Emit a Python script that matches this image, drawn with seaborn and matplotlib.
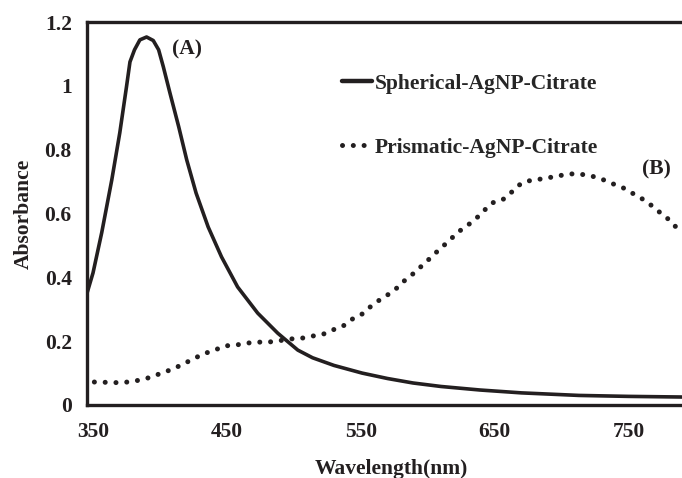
import numpy as np
import pandas as pd
import seaborn as sns
from matplotlib import pyplot as plt
from matplotlib.lines import Line2D

# Spherical-AgNP-Citrate (solid)
sph_wl = [345.5, 350, 356.5, 364, 370, 375, 377.6, 381, 385, 390, 395, 399, 402.5,
          407.5, 414, 420, 427, 436, 446, 458, 473, 488, 503, 514, 530, 551, 570, 589,
          610, 639, 670, 713, 750, 790]
sph_abs = [0.35, 0.414, 0.54, 0.705, 0.853, 0.997, 1.075, 1.113, 1.144, 1.153, 1.142, 1.113,
           1.06, 0.977, 0.872, 0.768, 0.664, 0.558, 0.464, 0.37, 0.288, 0.225, 0.172, 0.148,
           0.124, 0.10, 0.083, 0.069, 0.058, 0.047, 0.038, 0.030, 0.027, 0.025]

# Prismatic-AgNP-Citrate (dotted)
pri_wl = [351, 360, 369, 376, 385, 394, 401, 410, 417, 425, 432, 440, 448, 457, 465, 474,
          481, 490, 498, 507, 514, 522, 529, 537, 544, 551, 557, 565, 572, 578, 584, 591,
          597, 603, 609, 616, 622, 629, 634, 639, 644, 648, 656, 663, 670, 678, 689, 696,
          701, 707, 713, 722, 730, 737, 745, 751, 758, 765, 771, 778, 783, 788, 792]
pri_abs = [0.072, 0.071, 0.070, 0.072, 0.078, 0.088, 0.100, 0.113, 0.128, 0.144, 0.160, 0.170,
           0.185, 0.188, 0.194, 0.197, 0.197, 0.202, 0.207, 0.210, 0.216, 0.222, 0.235, 0.248,
           0.270, 0.285, 0.307, 0.332, 0.350, 0.370, 0.395, 0.417, 0.442, 0.464, 0.489, 0.514,
           0.540, 0.560, 0.577, 0.595, 0.617, 0.633, 0.643, 0.668, 0.695, 0.705, 0.710, 0.718,
           0.720, 0.724, 0.724, 0.718, 0.708, 0.695, 0.683, 0.668, 0.652, 0.633, 0.611, 0.590,
           0.567, 0.549, 0.540]

x_ticks = [350, 450, 550, 650, 750]
y_ticks = [0, 0.2, 0.4, 0.6, 0.8, 1.0, 1.2]
y_tick_labels = ["0", "0.2", "0.4", "0.6", "0.8", "1", "1.2"]

ink = "#231f20"
fs = 15.5

sns.set_style("white")
plt.rcParams['font.family'] = ['Liberation Serif', 'DejaVu Serif']
plt.rcParams['font.weight'] = 'bold'

fig = plt.figure(figsize=(6.82, 4.78), dpi=100)
ax = fig.add_axes([87 / 682, 73 / 478, 1 - 87 / 682, 383 / 478])

sph = pd.DataFrame({"wl": sph_wl, "abs": sph_abs})
pri = pd.DataFrame({"wl": pri_wl, "abs": pri_abs})

sns.lineplot(data=sph, x="wl", y="abs", ax=ax, color=ink, linewidth=2.6,
             sort=False, estimator=None)
sns.lineplot(data=pri, x="wl", y="abs", ax=ax, color=ink, linewidth=3.6,
             sort=False, estimator=None)
ax.lines[0].set_solid_joinstyle("round")
dot = ax.lines[1]
dot.set_linestyle((0, (0.01, 2.15)))
dot.set_dash_capstyle("round")

ax.set_xlim(345.5, 790)
ax.set_ylim(0, 1.2)
ax.set_xticks(x_ticks)
ax.set_yticks(y_ticks)
ax.set_yticklabels(y_tick_labels)
ax.tick_params(axis="both", length=0, labelsize=fs, colors=ink)
ax.tick_params(axis="x", pad=12)
ax.tick_params(axis="y", pad=11)
for lab in ax.get_xticklabels() + ax.get_yticklabels():
    lab.set_fontweight("bold")

for side in ["left", "top", "bottom"]:
    ax.spines[side].set_linewidth(2.4)
    ax.spines[side].set_color(ink)
ax.spines["right"].set_visible(False)

ax.set_xlabel("Wavelength(nm)", fontsize=fs, fontweight="bold", color=ink)
ax.set_ylabel("Absorbance", fontsize=fs, fontweight="bold", color=ink)
ax.xaxis.set_label_coords(0.511, -0.14)
ax.yaxis.set_label_coords(-0.09, 0.5)

handles = [Line2D([], [], color=ink, linewidth=3.2),
           Line2D([], [], color=ink, linewidth=3.6, linestyle=(0, (0.01, 2.15)),
                  dash_capstyle="round")]
ax.legend(handles, ["Spherical-AgNP-Citrate", "Prismatic-AgNP-Citrate"],
          loc="upper left", bbox_to_anchor=(0.428, 0.865), frameon=False,
          prop={"size": fs, "weight": "bold"}, handlelength=1.4, handletextpad=0.12,
          labelspacing=2.05, borderpad=0, borderaxespad=0)

ax.text(420, 1.115, "(A)", fontsize=fs, fontweight="bold", color=ink, ha="center", va="center")
ax.text(771, 0.737, "(B)", fontsize=fs, fontweight="bold", color=ink, ha="center", va="center")

fig.savefig("out.png", dpi=100, facecolor="white")
